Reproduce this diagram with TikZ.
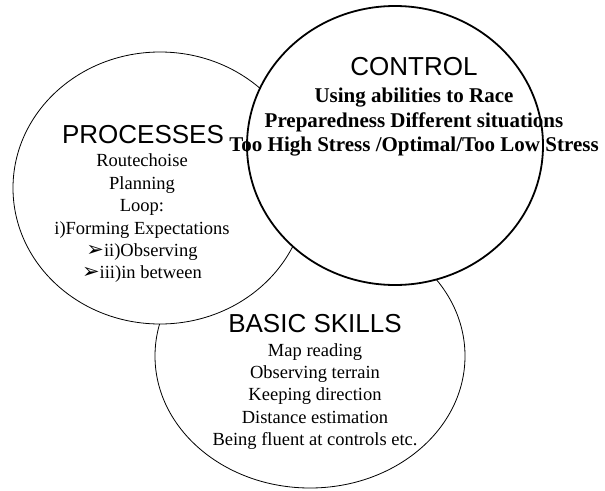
\documentclass[tikz,border=0pt]{standalone}
\usepackage{fontspec}
\setmainfont{Liberation Serif}
\setsansfont{Liberation Sans}
\newfontfamily\dingfont{DejaVu Sans}
\usetikzlibrary{shapes.geometric}
\newcommand{\tipmark}{{\dingfont\fontsize{21}{21}\selectfont ➢}}

\tikzset{
  ring/.style={ellipse, draw, fill=white, line width=0.8pt, inner sep=0pt},
  circtitle/.style={font=\sffamily\fontsize{26}{26}\selectfont, anchor=base, inner sep=0pt},
  boldline/.style={font=\bfseries\fontsize{21}{21}\selectfont, anchor=base, inner sep=0pt},
  itemline/.style={font=\fontsize{18.5}{18.5}\selectfont, anchor=base, inner sep=0pt},
}

\begin{document}
\begin{tikzpicture}[x=1pt,y=-1pt]
	%%%%% START %%%%%
	\useasboundingbox (0,0) rectangle (605,490);
	
	\node[ring, minimum width=310, minimum height=264] (basic) at (310,356) {};
	\node[ring, minimum width=294, minimum height=272] (procs) at (160,188) {};
	\node[ring, line width=1.8pt, minimum width=296, minimum height=279] (ctrl) at (395,145.5) {};
	
	\node[circtitle] (ctrl-title) at (414,75) {CONTROL};
	\foreach \txt [count=\i] in {Using abilities to Race, Preparedness Different situations, Too High Stress /Optimal/Too Low Stress}
		\node[boldline] (ctrl-\i) at (414,{78+24.5*\i}) {\txt};
	
	\node[circtitle] (procs-title) at (143,143) {PROCESSES};
	\foreach \txt [count=\i] in {Routechoise, Planning, Loop:, i)Forming Expectations, \tipmark ii)Observing, \tipmark iii)in between}
		\node[itemline] (procs-\i) at (142,{144.5+22.4*\i}) {\txt};
	
	\node[circtitle] (basic-title) at (315,332) {BASIC SKILLS};
	\foreach \txt [count=\i] in {Map reading, Observing terrain, Keeping direction, Distance estimation, Being fluent at controls etc.}
		\node[itemline] (basic-\i) at (315,{333.8+22.3*\i}) {\txt};
	
	%%%%% END %%%%%
\end{tikzpicture}
\end{document}
